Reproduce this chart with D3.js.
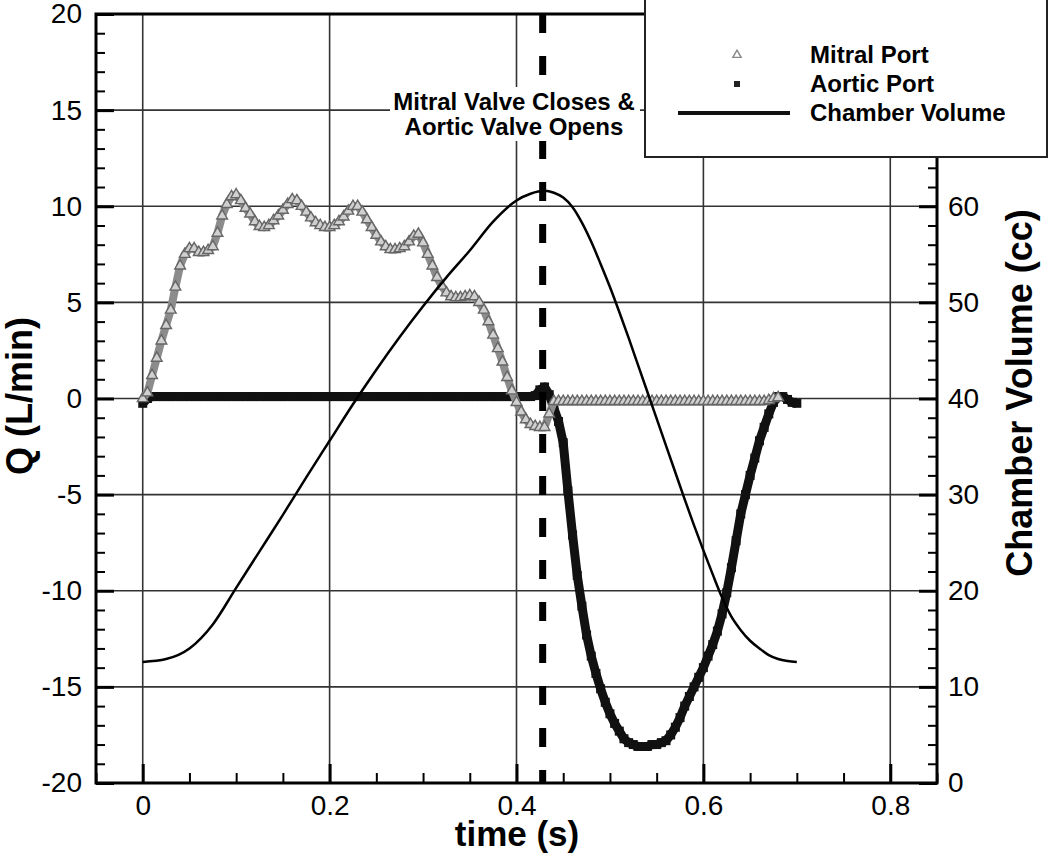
<!DOCTYPE html>
<html>
<head>
<meta charset="utf-8">
<script src="https://cdn.jsdelivr.net/npm/d3@7"></script>
<style>
  body { margin: 0; background: #fff; }
  svg text { font-family: "Liberation Sans", Arial, Helvetica, sans-serif; }
</style>
</head>
<body>
<div id="chart"></div>
<script>
// sample times (s) shared by the two flow series
var sampleT = [
  0, 0.005, 0.01, 0.015, 0.02, 0.025, 0.03, 0.035, 0.04, 0.045,
  0.05, 0.055, 0.06, 0.065, 0.07, 0.075, 0.08, 0.085, 0.09, 0.095,
  0.1, 0.105, 0.11, 0.115, 0.12, 0.125, 0.13, 0.135, 0.14, 0.145,
  0.15, 0.155, 0.16, 0.165, 0.17, 0.175, 0.18, 0.185, 0.19, 0.195,
  0.2, 0.205, 0.21, 0.215, 0.22, 0.225, 0.23, 0.235, 0.24, 0.245,
  0.25, 0.255, 0.26, 0.265, 0.27, 0.275, 0.28, 0.285, 0.29, 0.295,
  0.3, 0.305, 0.31, 0.315, 0.32, 0.325, 0.33, 0.335, 0.34, 0.345,
  0.35, 0.355, 0.36, 0.365, 0.37, 0.375, 0.38, 0.385, 0.39, 0.395,
  0.4, 0.405, 0.41, 0.415, 0.42, 0.425, 0.43, 0.435, 0.44, 0.445,
  0.45, 0.455, 0.46, 0.465, 0.47, 0.475, 0.48, 0.485, 0.49, 0.495,
  0.5, 0.505, 0.51, 0.515, 0.52, 0.525, 0.53, 0.535, 0.54, 0.545,
  0.55, 0.555, 0.56, 0.565, 0.57, 0.575, 0.58, 0.585, 0.59, 0.595,
  0.6, 0.605, 0.61, 0.615, 0.62, 0.625, 0.63, 0.635, 0.64, 0.645,
  0.65, 0.655, 0.66, 0.665, 0.67, 0.675, 0.68, 0.685, 0.69, 0.695,
  0.7
];

// Mitral Port flow, L/min
var mitralQ = [
  0.0, 0.3, 1.2, 2.1, 3.0, 3.8, 4.6, 5.8, 6.9, 7.5,
  7.8, 7.8, 7.6, 7.6, 7.7, 7.9, 8.6, 9.5, 10.1, 10.5,
  10.6, 10.3, 9.9, 9.6, 9.2, 8.95, 8.9, 9.0, 9.25, 9.5,
  9.8, 10.1, 10.35, 10.3, 10.0, 9.7, 9.4, 9.15, 9.0, 8.9,
  8.9, 9.0, 9.2, 9.45, 9.75, 10.0, 10.0, 9.7, 9.3, 8.9,
  8.5, 8.15, 7.9, 7.75, 7.75, 7.8, 7.9, 8.15, 8.45, 8.55,
  8.1, 7.5, 6.9, 6.3, 5.85, 5.5, 5.3, 5.25, 5.25, 5.3,
  5.35, 5.3, 5.0, 4.6, 4.0, 3.3, 2.6, 1.9, 1.1, 0.4,
  -0.2, -0.7, -1.1, -1.35, -1.45, -1.5, -1.5, -0.8, -0.15, -0.15,
  -0.15, -0.15, -0.15, -0.15, -0.15, -0.15, -0.15, -0.15, -0.15, -0.15,
  -0.15, -0.15, -0.15, -0.15, -0.15, -0.15, -0.15, -0.15, -0.15, -0.15,
  -0.15, -0.15, -0.15, -0.15, -0.15, -0.15, -0.15, -0.15, -0.15, -0.15,
  -0.15, -0.15, -0.15, -0.15, -0.15, -0.15, -0.15, -0.15, -0.15, -0.15,
  -0.15, -0.15, -0.15, -0.15, -0.1, 0.0, 0.05, null, null, null,
  null
];

// Aortic Port flow, L/min
var aorticQ = [
  -0.25, 0.0, 0.1, 0.1, 0.1, 0.1, 0.1, 0.1, 0.1, 0.1,
  0.1, 0.1, 0.1, 0.1, 0.1, 0.1, 0.1, 0.1, 0.1, 0.1,
  0.1, 0.1, 0.1, 0.1, 0.1, 0.1, 0.1, 0.1, 0.1, 0.1,
  0.1, 0.1, 0.1, 0.1, 0.1, 0.1, 0.1, 0.1, 0.1, 0.1,
  0.1, 0.1, 0.1, 0.1, 0.1, 0.1, 0.1, 0.1, 0.1, 0.1,
  0.1, 0.1, 0.1, 0.1, 0.1, 0.1, 0.1, 0.1, 0.1, 0.1,
  0.1, 0.1, 0.1, 0.1, 0.1, 0.1, 0.1, 0.1, 0.1, 0.1,
  0.1, 0.1, 0.1, 0.1, 0.1, 0.1, 0.1, 0.1, 0.1, 0.1,
  0.1, 0.1, 0.1, 0.1, 0.15, 0.45, 0.6, 0.2, -0.5, -1.2,
  -2.3, -4.8, -7.1, -9.2, -10.8, -12.3, -13.4, -14.3, -15.1, -15.8,
  -16.4, -16.9, -17.3, -17.7, -17.9, -18.0, -18.1, -18.1, -18.1, -18.0,
  -18.0, -17.9, -17.8, -17.5, -17.1, -16.6, -16.0, -15.5, -15.0, -14.5,
  -14.0, -13.4, -12.8, -12.1, -11.2, -10.1, -8.8, -7.4, -6.0, -5.0,
  -4.0, -3.1, -2.2, -1.5, -0.8, -0.2, 0.1, 0.1, -0.05, -0.2,
  -0.25
];

// Chamber Volume, cc (right axis)
var volT = [0, 0.025, 0.05, 0.075, 0.1, 0.125, 0.15, 0.175, 0.2, 0.225,
  0.25, 0.275, 0.3, 0.325, 0.35, 0.375, 0.4, 0.415, 0.43, 0.44,
  0.45, 0.46, 0.47, 0.48, 0.49, 0.5, 0.51, 0.52, 0.53, 0.54,
  0.55, 0.56, 0.57, 0.58, 0.59, 0.6, 0.61, 0.62, 0.63, 0.64,
  0.65, 0.66, 0.67, 0.68, 0.69, 0.7];
var volV = [12.6, 12.9, 14.0, 16.5, 20.3, 24.1, 27.9, 31.8, 35.6, 39.4,
  43.0, 46.4, 49.6, 52.6, 55.4, 58.4, 60.6, 61.3, 61.6, 61.4,
  60.9, 59.9, 58.3, 56.3, 54.0, 51.6, 49.0, 46.3, 43.5, 40.7,
  37.9, 35.1, 32.3, 29.5, 26.8, 24.2, 21.7, 19.3, 17.3, 15.9,
  14.8, 14.0, 13.3, 12.9, 12.7, 12.6];

var xTicks = [0, 0.2, 0.4, 0.6, 0.8];
var qTicks = [-20, -15, -10, -5, 0, 5, 10, 15, 20];
var vTicks = [0, 10, 20, 30, 40, 50, 60, 70, 80];
var vLabelMax = 60; // 70 and 80 sit under the legend box
var valveTime = 0.428;
var noteLines = ["Mitral Valve Closes &", "Aortic Valve Opens"];
var legendNames = ["Mitral Port", "Aortic Port", "Chamber Volume"];

var W = 1050, H = 857;
var L = 96, R = 937, T = 14, B = 783;

var svg = d3.select("#chart").append("svg")
    .attr("width", W)
    .attr("height", H);

var x = d3.scaleLinear().domain([-0.05, 0.85]).range([L, R]);
var yQ = d3.scaleLinear().domain([-20, 20]).range([B, T]);
var yV = d3.scaleLinear().domain([0, 80]).range([B, T]);

var plain = function(d) { return String(d); };

// grid
svg.append("g").selectAll("line")
  .data(xTicks)
  .enter().append("line")
    .attr("x1", function(d) { return x(d); })
    .attr("x2", function(d) { return x(d); })
    .attr("y1", T).attr("y2", B)
    .attr("stroke", "#333").attr("stroke-width", 1.6);
svg.append("g").selectAll("line")
  .data(qTicks.slice(1, -1))
  .enter().append("line")
    .attr("y1", function(d) { return yQ(d); })
    .attr("y2", function(d) { return yQ(d); })
    .attr("x1", L).attr("x2", R)
    .attr("stroke", "#333").attr("stroke-width", 1.6);

// axes: major + minor ticks pointing inward
function styleAxis(g, w) {
  g.select(".domain").remove();
  g.selectAll(".tick line").attr("stroke", "#000").attr("stroke-width", w);
  g.selectAll("text").attr("fill", "#000").style("font-size", "28px");
}

var minorX = [-0.05, 0.05, 0.1, 0.15, 0.25, 0.3, 0.35, 0.45, 0.5, 0.55, 0.65, 0.7, 0.75, 0.85];
svg.append("g")
    .attr("transform", "translate(0," + B + ")")
    .call(d3.axisBottom(x).tickValues(minorX).tickSize(-10).tickFormat(""))
    .call(styleAxis, 2);
svg.append("g")
    .attr("transform", "translate(0," + B + ")")
    .call(d3.axisBottom(x).tickValues(xTicks).tickSize(-19).tickPadding(12).tickFormat(plain))
    .call(styleAxis, 3);

var minorQ = d3.range(-20, 20.1, 1).filter(function(v) { return v % 5 !== 0; });
svg.append("g")
    .attr("transform", "translate(" + L + ",0)")
    .call(d3.axisLeft(yQ).tickValues(minorQ).tickSize(-9).tickFormat(""))
    .call(styleAxis, 2);
svg.append("g")
    .attr("transform", "translate(" + L + ",0)")
    .call(d3.axisLeft(yQ).tickValues(qTicks).tickSize(-18).tickPadding(14).tickFormat(plain))
    .call(styleAxis, 3);

var minorV = d3.range(0, 80.1, 2).filter(function(v) { return v % 10 !== 0; });
svg.append("g")
    .attr("transform", "translate(" + R + ",0)")
    .call(d3.axisRight(yV).tickValues(minorV).tickSize(-9).tickFormat(""))
    .call(styleAxis, 2);
svg.append("g")
    .attr("transform", "translate(" + R + ",0)")
    .call(d3.axisRight(yV).tickValues(vTicks).tickSize(-18).tickPadding(11)
      .tickFormat(function(d) { return d <= vLabelMax ? String(d) : ""; }))
    .call(styleAxis, 3);

// frame
svg.append("rect")
    .attr("x", L).attr("y", T)
    .attr("width", R - L).attr("height", B - T)
    .attr("fill", "none").attr("stroke", "#000").attr("stroke-width", 3);

// series
var flow = sampleT.map(function(t, i) { return {t: t, m: mitralQ[i], a: aorticQ[i]}; });
var aortic = flow.filter(function(d) { return d.a != null; });
var mitral = flow.filter(function(d) { return d.m != null; });
var vol = volT.map(function(t, i) { return {t: t, v: volV[i]}; });

svg.append("path")
    .datum(aortic)
    .attr("fill", "none").attr("stroke", "#111").attr("stroke-width", 9)
    .attr("stroke-linejoin", "round")
    .attr("d", d3.line().x(function(d) { return x(d.t); }).y(function(d) { return yQ(d.a); }));
svg.append("g").selectAll("path")
  .data(aortic)
  .enter().append("path")
    .attr("transform", function(d) { return "translate(" + x(d.t) + "," + yQ(d.a) + ")"; })
    .attr("d", d3.symbol().type(d3.symbolSquare).size(81))
    .attr("fill", "#111");

svg.append("path")
    .datum(mitral)
    .attr("fill", "none").attr("stroke", "#8c8c8c").attr("stroke-width", 8)
    .attr("stroke-linejoin", "round")
    .attr("d", d3.line().x(function(d) { return x(d.t); }).y(function(d) { return yQ(d.m); }));
svg.append("g").selectAll("path")
  .data(mitral)
  .enter().append("path")
    .attr("transform", function(d) { return "translate(" + x(d.t) + "," + yQ(d.m) + ")"; })
    .attr("d", d3.symbol().type(d3.symbolTriangle).size(50))
    .attr("fill", "#d0d0d0").attr("stroke", "#666").attr("stroke-width", 1.4);

svg.append("path")
    .datum(vol)
    .attr("fill", "none").attr("stroke", "#000").attr("stroke-width", 2.5)
    .attr("d", d3.line().curve(d3.curveMonotoneX)
      .x(function(d) { return x(d.t); }).y(function(d) { return yV(d.v); }));

// valve event
svg.append("line")
    .attr("x1", x(valveTime)).attr("x2", x(valveTime))
    .attr("y1", T).attr("y2", B)
    .attr("stroke", "#000").attr("stroke-width", 7)
    .attr("stroke-dasharray", "19,23");

var note = svg.append("g");
note.append("rect")
    .attr("x", 390).attr("y", 87).attr("width", 250).attr("height", 54)
    .attr("fill", "#fff");
note.selectAll("text")
  .data(noteLines)
  .enter().append("text")
    .attr("x", 514)
    .attr("y", function(d, i) { return 110 + i * 25; })
    .attr("text-anchor", "middle")
    .style("font-size", "24px").style("font-weight", "bold")
    .text(function(d) { return d; });

// axis titles
svg.append("text")
    .attr("transform", "translate(517,846)")
    .attr("text-anchor", "middle")
    .style("font-size", "35px").style("font-weight", "bold")
    .text("time (s)");
svg.append("text")
    .attr("transform", "translate(32,396) rotate(-90)")
    .attr("text-anchor", "middle")
    .style("font-size", "36px").style("font-weight", "bold")
    .text("Q (L/min)");
svg.append("text")
    .attr("transform", "translate(1032,393) rotate(-90)")
    .attr("text-anchor", "middle")
    .style("font-size", "36px").style("font-weight", "bold")
    .text("Chamber Volume (cc)");

// legend
var lg = svg.append("g");
lg.append("rect")
    .attr("x", 645).attr("y", -3).attr("width", 402).attr("height", 160)
    .attr("fill", "#fff").attr("stroke", "#222").attr("stroke-width", 2);
var rows = lg.selectAll("g")
  .data(legendNames)
  .enter().append("g")
    .attr("transform", function(d, i) { return "translate(0," + [55, 84, 113][i] + ")"; });
rows.append("text")
    .attr("x", 810).attr("y", 8)
    .style("font-size", "24px").style("font-weight", "bold")
    .text(function(d) { return d; });
rows.filter(function(d, i) { return i === 0; }).append("path")
    .attr("transform", "translate(737,0)")
    .attr("d", d3.symbol().type(d3.symbolTriangle).size(30))
    .attr("fill", "#fff").attr("stroke", "#888").attr("stroke-width", 1.4);
rows.filter(function(d, i) { return i === 1; }).append("path")
    .attr("transform", "translate(737,0)")
    .attr("d", d3.symbol().type(d3.symbolSquare).size(36))
    .attr("fill", "#222");
rows.filter(function(d, i) { return i === 2; }).append("line")
    .attr("x1", 678).attr("x2", 790)
    .attr("stroke", "#111").attr("stroke-width", 4);
</script>
</body>
</html>
